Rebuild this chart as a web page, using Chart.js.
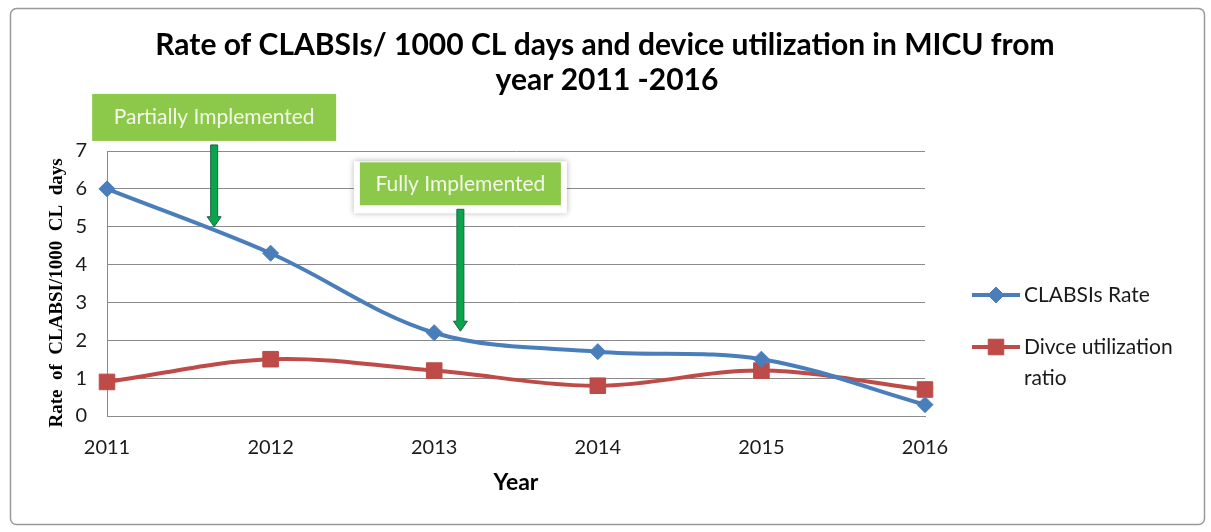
<!DOCTYPE html>
<html>
<head>
<meta charset="utf-8">
<script src="https://cdn.jsdelivr.net/npm/chart.js@4.4.0/dist/chart.umd.min.js"></script>
<style>
html, body { margin: 0; padding: 0; background: #fff; }
</style>
</head>
<body>
<canvas id="micuChart" width="1211" height="532"></canvas>
<script>
// values
var years = ['2011', '2012', '2013', '2014', '2015', '2016'];
var clabsiRate = [6.0, 4.3, 2.2, 1.7, 1.5, 0.3];
var deviceRatio = [0.9, 1.5, 1.2, 0.8, 1.2, 0.7];
var yMin = 0;
var yMax = 7;
var titleLines = ['Rate of CLABSIs/ 1000 CL days and device utilization in MICU from', 'year 2011 -2016'];
var seriesNames = ['CLABSIs Rate', ['Divce utilization', 'ratio']];

// call-outs: x as category index, tail/tip as y values
var notes = [
    { text: 'Partially Implemented', at: 0.655, tail: 7.16, tip: 5.0, w: 244, h: 47, framed: false },
    { text: 'Fully Implemented', at: 2.16, tail: 5.46, tip: 2.24, w: 201, h: 43, framed: true }
];

const blue = '#4a7ebb';
const red = '#be4b48';
const gridGray = '#8a8a8a';

// frame + title drawn behind the chart
const framePlugin = {
    id: 'frameAndTitle',
    beforeDraw: (chart) => {
        const { ctx } = chart;
        ctx.save();
        ctx.fillStyle = '#fff';
        ctx.fillRect(0, 0, chart.width, chart.height);
        ctx.strokeStyle = '#9a9a9a';
        ctx.lineWidth = 1.5;
        ctx.beginPath();
        ctx.roundRect(10.5, 8.5, 1194, 516, 6);
        ctx.stroke();
        ctx.fillStyle = '#000';
        ctx.font = 'bold 30px Lato';
        ctx.textAlign = 'center';
        ctx.textBaseline = 'middle';
        ctx.fillText(titleLines[0], 605, 45);
        ctx.fillText(titleLines[1], 607, 80);
        ctx.restore();
    }
};

// legend on the right, with the wrapped second label
const sideLegend = {
    id: 'sideLegend',
    afterDraw: (chart) => {
        const { ctx } = chart;
        const rows = [295, 347];
        ctx.save();
        chart.data.datasets.forEach((ds, i) => {
            const y = rows[i];
            ctx.strokeStyle = ds.borderColor;
            ctx.lineWidth = 4;
            ctx.beginPath();
            ctx.moveTo(972, y);
            ctx.lineTo(1020, y);
            ctx.stroke();
            ctx.fillStyle = ds.borderColor;
            ctx.strokeStyle = ds.borderColor;
            ctx.lineWidth = 1;
            Chart.helpers.drawPoint(ctx, { pointStyle: ds.pointStyle, radius: ds.pointRadius, borderWidth: 1 }, 996, y);
            ctx.fillStyle = '#1a1a1a';
            ctx.font = '21px Lato';
            ctx.textAlign = 'left';
            ctx.textBaseline = 'middle';
            const lines = [].concat(seriesNames[i]);
            lines.forEach((t, k) => ctx.fillText(t, 1024, y + k * 31));
        });
        ctx.restore();
    }
};

// green boxes and arrows
const calloutPlugin = {
    id: 'callouts',
    afterDatasetsDraw: (chart) => {
        const { ctx } = chart;
        const xs = chart.scales.x;
        const ys = chart.scales.y;
        ctx.save();
        notes.forEach((n) => {
            const x = xs.getPixelForValue(n.at);
            const yTail = ys.getPixelForValue(n.tail);
            const yTip = ys.getPixelForValue(n.tip);
            const bx = x - n.w / 2;
            const by = yTail - 4 - n.h;
            if (n.framed) {
                ctx.save();
                ctx.shadowColor = 'rgba(0,0,0,0.3)';
                ctx.shadowBlur = 6;
                ctx.fillStyle = '#fff';
                ctx.fillRect(bx - 6, by - 1, n.w + 12, n.h + 9);
                ctx.restore();
            }
            ctx.fillStyle = '#8cc94a';
            ctx.fillRect(bx, by, n.w, n.h);
            ctx.fillStyle = '#f4f8ea';
            ctx.font = '21px Lato';
            ctx.textAlign = 'center';
            ctx.textBaseline = 'middle';
            ctx.fillText(n.text, x, by + n.h / 2);

            // arrow
            const sw = 3.5, hw = 7, hl = 10;
            ctx.beginPath();
            ctx.moveTo(x - sw, yTail);
            ctx.lineTo(x + sw, yTail);
            ctx.lineTo(x + sw, yTip - hl);
            ctx.lineTo(x + hw, yTip - hl);
            ctx.lineTo(x, yTip);
            ctx.lineTo(x - hw, yTip - hl);
            ctx.lineTo(x - sw, yTip - hl);
            ctx.closePath();
            ctx.fillStyle = '#0aa44a';
            ctx.fill();
            ctx.strokeStyle = '#1e5f4a';
            ctx.lineWidth = 1;
            ctx.stroke();
        });
        ctx.restore();
    }
};

const config = {
    type: 'line',
    data: {
        labels: years,
        datasets: [
            {
                label: 'CLABSIs Rate',
                data: clabsiRate,
                borderColor: blue,
                backgroundColor: blue,
                borderWidth: 4,
                tension: 0.35,
                pointStyle: 'rectRot',
                pointRadius: 8,
                pointHoverRadius: 8,
                pointBorderWidth: 1,
                clip: false,
            },
            {
                label: 'Divce utilization ratio',
                data: deviceRatio,
                borderColor: red,
                backgroundColor: red,
                borderWidth: 4,
                tension: 0.35,
                pointStyle: 'rect',
                pointRadius: 11,
                pointHoverRadius: 11,
                pointBorderWidth: 1,
                clip: false,
            },
        ],
    },
    options: {
        responsive: false,
        animation: false,
        layout: {
            padding: { top: 151, left: 20, right: 286, bottom: 10 },
        },
        plugins: {
            legend: { display: false },
            title: { display: false },
            tooltip: { enabled: false },
        },
        scales: {
            x: {
                offset: false,
                grid: { display: false, drawTicks: false },
                border: { display: true, color: gridGray, width: 1 },
                ticks: {
                    padding: 20,
                    color: '#1a1a1a',
                    font: { family: 'Lato', size: 20 },
                },
                title: {
                    display: true,
                    text: 'Year',
                    color: '#000',
                    font: { family: 'Lato', size: 23, weight: 'bold' },
                    padding: { top: 0, bottom: 26 },
                },
                afterFit: (scale) => { scale.height = 106; },
            },
            y: {
                min: yMin,
                max: yMax,
                grid: { color: gridGray, drawTicks: false, lineWidth: 1 },
                border: { display: true, color: gridGray, width: 1 },
                ticks: {
                    stepSize: 1,
                    padding: 20,
                    color: '#1a1a1a',
                    font: { family: 'Lato', size: 20 },
                },
                title: {
                    display: true,
                    text: 'Rate  of  CLABSI/1000  CL  days    ',
                    color: '#000',
                    font: { family: 'Liberation Serif', size: 19, weight: 'bold' },
                    padding: { top: 26, bottom: 0 },
                },
                afterFit: (scale) => { scale.width = 87; },
            },
        },
    },
    plugins: [framePlugin, calloutPlugin, sideLegend],
};

let micuChart = new Chart(document.getElementById('micuChart'), config);
</script>
</body>
</html>
